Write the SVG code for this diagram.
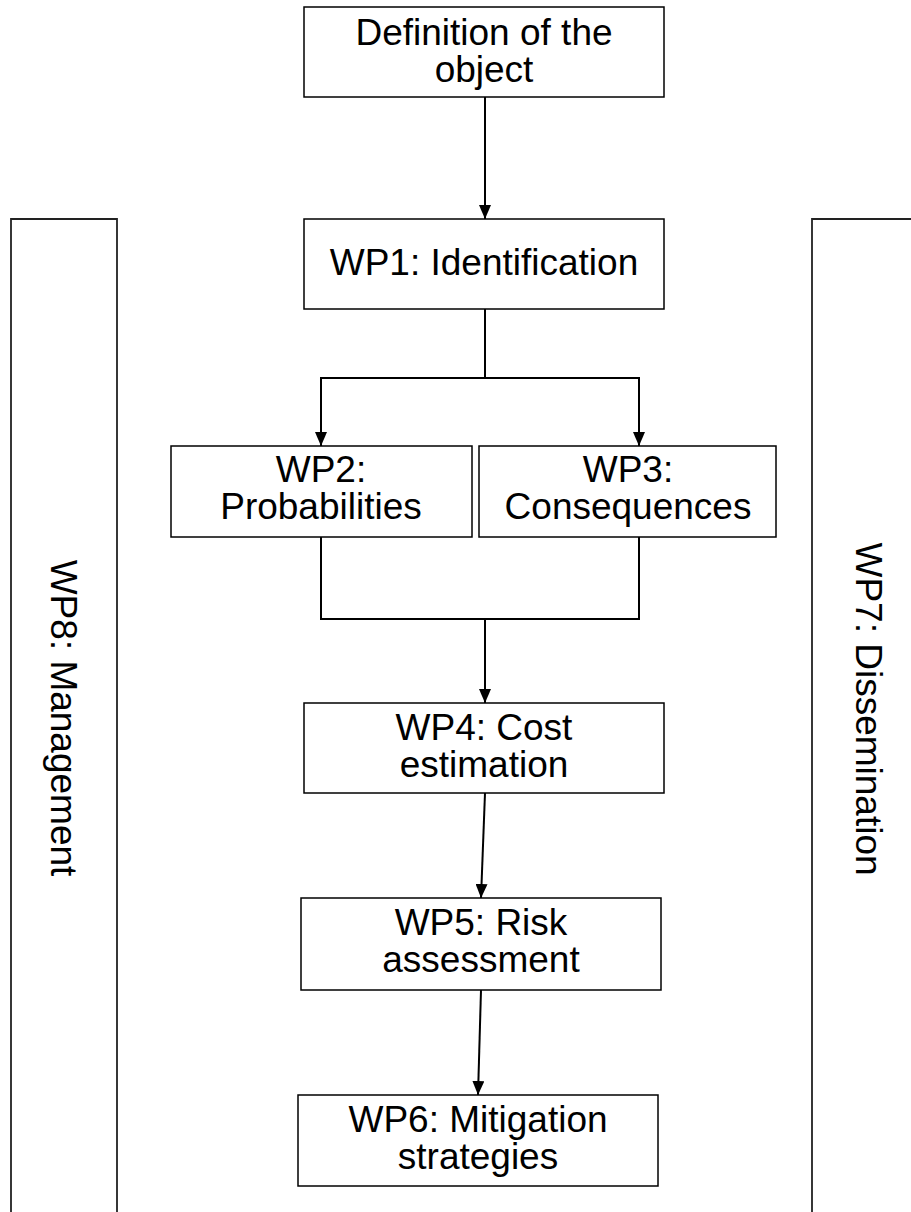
<svg xmlns="http://www.w3.org/2000/svg" width="911" height="1212" viewBox="0 0 911 1212">
<defs>
<marker id="ah" markerWidth="14" markerHeight="12" refX="14" refY="6" orient="auto" markerUnits="userSpaceOnUse" viewBox="0 0 14 12">
<path d="M0,0 L14,6 L0,12 Z" fill="#000"/>
</marker>
</defs>
<style>
.box{fill:#fff;stroke:#000;stroke-width:1.5}
.side{fill:#fff;stroke:#222;stroke-width:1.8}
.t{font-family:"Liberation Sans",Arial,sans-serif;font-size:37px;fill:#000;text-anchor:middle}
.c{fill:none;stroke:#000;stroke-width:2}
</style>
<rect width="911" height="1212" fill="#fff"/>
<g id="wp8">
<path class="side" d="M11,1215 L11,219 L117,219 L117,1215"/>
<text class="t" transform="translate(51,718) rotate(90)">WP8: Management</text>
</g>
<g id="wp7">
<path class="side" d="M915,219 L812,219 L812,1215"/>
<text class="t" transform="translate(856,709) rotate(90)">WP7: Dissemination</text>
</g>
<g id="def">
<rect class="box" x="304" y="7" width="360" height="90"/>
<text class="t" x="484" y="45">Definition of the</text>
<text class="t" x="484" y="82">object</text>
</g>
<g id="wp1">
<rect class="box" x="304" y="219" width="360" height="90"/>
<text class="t" x="484" y="275">WP1: Identification</text>
</g>
<g id="wp2">
<rect class="box" x="171" y="446" width="301" height="91"/>
<text class="t" x="321" y="482">WP2:</text>
<text class="t" x="321" y="519">Probabilities</text>
</g>
<g id="wp3">
<rect class="box" x="479" y="446" width="297" height="91"/>
<text class="t" x="628" y="482">WP3:</text>
<text class="t" x="628" y="519">Consequences</text>
</g>
<g id="wp4">
<rect class="box" x="304" y="703" width="360" height="90"/>
<text class="t" x="484" y="740">WP4: Cost</text>
<text class="t" x="484" y="777">estimation</text>
</g>
<g id="wp5">
<rect class="box" x="301" y="898" width="360" height="92"/>
<text class="t" x="481" y="935">WP5: Risk</text>
<text class="t" x="481" y="972">assessment</text>
</g>
<g id="wp6">
<rect class="box" x="298" y="1095" width="360" height="91"/>
<text class="t" x="478" y="1132">WP6: Mitigation</text>
<text class="t" x="478" y="1169">strategies</text>
</g>
<g id="connectors">
<path class="c" d="M485,97 L485,219" marker-end="url(#ah)"/>
<path class="c" d="M485,309 L485,378 L321,378 L321,446" marker-end="url(#ah)"/>
<path class="c" d="M485,378 L639,378 L639,446" marker-end="url(#ah)"/>
<path class="c" d="M321,537 L321,619 L639,619 L639,537"/>
<path class="c" d="M485,619 L485,703" marker-end="url(#ah)"/>
<path class="c" d="M485,793 L481,898" marker-end="url(#ah)"/>
<path class="c" d="M481,990 L478,1095" marker-end="url(#ah)"/>
</g>
</svg>
